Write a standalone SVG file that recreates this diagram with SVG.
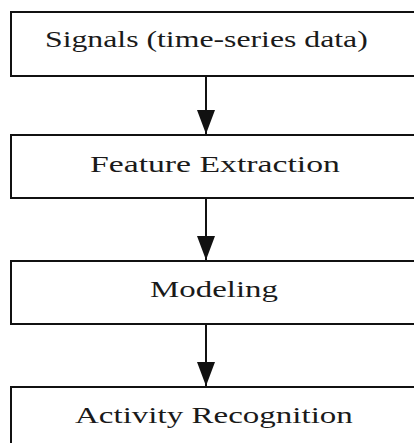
<svg xmlns="http://www.w3.org/2000/svg" width="414" height="443" viewBox="0 0 414 443">
<style>
.box{fill:#fff;stroke:#111;stroke-width:2}
.lbl{font-family:"Liberation Serif","Times New Roman",serif;font-size:24px;fill:#1a1a1a}
.conn{stroke:#111;stroke-width:2;fill:none}
</style>
<defs>
<marker id="ah" viewBox="0 0 24 18" refX="24" refY="9" markerWidth="24" markerHeight="18" markerUnits="userSpaceOnUse" orient="auto">
<path d="M0,0 L24,9 L0,18 Z" fill="#111"/>
</marker>
</defs>
<rect width="414" height="443" fill="#fff"/>
<g id="n1"><rect class="box" x="11" y="12" width="420" height="64"/><text class="lbl" transform="translate(45,47) scale(1.324,1)">Signals (time-series data)</text></g>
<g id="n2"><rect class="box" x="11" y="135" width="420" height="63"/><text class="lbl" transform="translate(90,172) scale(1.405,1)">Feature Extraction</text></g>
<g id="n3"><rect class="box" x="11" y="261" width="420" height="63"/><text class="lbl" transform="translate(150,297) scale(1.372,1)">Modeling</text></g>
<g id="n4"><rect class="box" x="11" y="387" width="420" height="70"/><text class="lbl" transform="translate(75,423) scale(1.376,1)">Activity Recognition</text></g>
<g id="connectors">
<line class="conn" x1="206" y1="77" x2="206" y2="134" marker-end="url(#ah)"/>
<line class="conn" x1="206" y1="199" x2="206" y2="260" marker-end="url(#ah)"/>
<line class="conn" x1="206" y1="325" x2="206" y2="386" marker-end="url(#ah)"/>
</g>
</svg>
